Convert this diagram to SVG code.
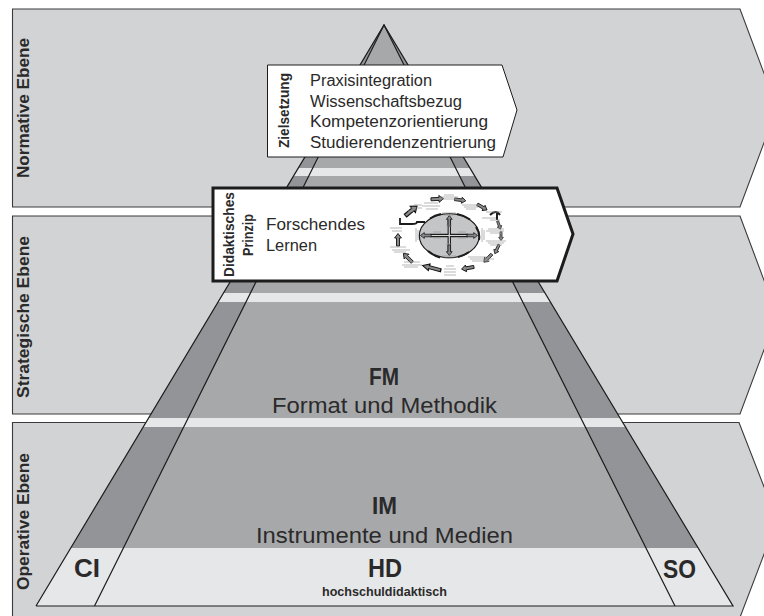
<svg xmlns="http://www.w3.org/2000/svg" xmlns:xlink="http://www.w3.org/1999/xlink" width="764" height="616" viewBox="0 0 764 616">
<style>
text{font-family:"Liberation Sans",Arial,sans-serif;fill:#2b2a2a}
.lvl{fill:#d1d3d4;stroke:#3a3a3c;stroke-width:1.1}
.ed{font-size:17px;font-weight:700}
.big{font-size:22px}
.hd{font-size:23px;font-weight:700}
.ls{font-size:16px}
.pl{fill:none;stroke:#1c1c1c;stroke-width:1.2}
.g{stroke:#9a9a9a;stroke-width:.7;fill:none}
</style>
<defs>
<clipPath id="tri"><polygon points="36,606 384,25 733,606"/></clipPath>
<polygon id="ar" points="-6,-1.5 2,-1.5 2,-3.400 6.500,0 2,3.400 2,1.500 -6,1.500" fill="#8a8a8a" stroke="#111" stroke-width=".9"/>
</defs>
<rect width="764" height="616" fill="#fff"/>
<g id="level-normative"><polygon class="lvl" points="12.500,9 740,9 777,108 740,207 12.500,207"/></g>
<g id="level-strategic"><polygon class="lvl" points="12.500,216 740,216 777,315 740,414 12.500,414"/></g>
<g id="level-operative"><polygon class="lvl" points="12.500,422.500 739,422.500 777,520 739,620 12.500,620"/></g>
<g id="pyramid">
<polygon points="36,606 384,25 733,606" fill="#929497"/>
<polygon points="94.500,606 384,25 675,606" fill="#a7a8aa"/>
<g clip-path="url(#tri)" fill="#e6e7e8">
<rect x="0" y="168" width="764" height="8"/>
<rect x="0" y="293" width="764" height="9"/>
<rect x="0" y="418" width="764" height="9"/>
<rect x="0" y="548" width="764" height="58"/>
</g>
<polyline class="pl" points="36,606 384,25 733,606 36,606"/>
<polyline class="pl" points="94.500,606 384,25 675,606"/>
</g>
<g id="label-levels">
<text class="ed" transform="translate(29,178) rotate(-90)" textLength="140" lengthAdjust="spacingAndGlyphs">Normative Ebene</text>
<text class="ed" transform="translate(29,398) rotate(-90)" textLength="162" lengthAdjust="spacingAndGlyphs">Strategische Ebene</text>
<text class="ed" transform="translate(29,590) rotate(-90)" textLength="137" lengthAdjust="spacingAndGlyphs">Operative Ebene</text>
</g>
<g id="node-zielsetzung">
<polygon points="267.500,65 502,65 517,110 503,157 267.500,157" fill="#fff" stroke="#1c1c1c" stroke-width="1"/>
<text transform="translate(289,148) rotate(-90)" font-size="14.500" font-weight="700" textLength="75" lengthAdjust="spacingAndGlyphs">Zielsetzung</text>
<text class="ls" x="310" y="86" textLength="122" lengthAdjust="spacingAndGlyphs">Praxisintegration</text>
<text class="ls" x="310" y="107" textLength="152" lengthAdjust="spacingAndGlyphs">Wissenschaftsbezug</text>
<text class="ls" x="310" y="127" textLength="178" lengthAdjust="spacingAndGlyphs">Kompetenzorientierung</text>
<text class="ls" x="310" y="148" textLength="186" lengthAdjust="spacingAndGlyphs">Studierendenzentrierung</text>
</g>
<g id="node-prinzip">
<polygon points="213,188 557,188 573,234 557,281 213,281" fill="#fff" stroke="#1c1c1c" stroke-width="3"/>
<text transform="translate(234,277) rotate(-90)" font-size="15" font-weight="700" textLength="85" lengthAdjust="spacingAndGlyphs">Didaktisches</text>
<text transform="translate(253,256) rotate(-90)" font-size="15" font-weight="700" textLength="42" lengthAdjust="spacingAndGlyphs">Prinzip</text>
<text class="ls" x="266" y="230" textLength="99" lengthAdjust="spacingAndGlyphs">Forschendes</text>
<text class="ls" x="266" y="251" textLength="51" lengthAdjust="spacingAndGlyphs">Lernen</text>
</g>
<g id="node-zyklus">
<ellipse cx="449.300" cy="235.700" rx="30" ry="22" fill="#c4c5c7" stroke="#1c1c1c" stroke-width="1.200"/>
<path d="M430 218.500A30 22 0 0 1 441 214M457 214A30 22 0 0 1 470 219.500M476 227A30 22 0 0 1 479 240M469 252A30 22 0 0 1 458 257M440 257.500A30 22 0 0 1 428 251" fill="none" stroke="#1c1c1c" stroke-width="2"/>
<path d="M430.500 235.500H468M449.300 219V252" stroke="#1c1c1c" stroke-width="3.400" fill="none"/>
<path d="M430.500 235.500H468M449.300 219V252" stroke="#d8d8d8" stroke-width="1.200" fill="none"/>
<use xlink:href="#ar" href="#ar" transform="translate(426,235.500) rotate(180) scale(.85)"/>
<use xlink:href="#ar" href="#ar" transform="translate(472,235.500) scale(.85)"/>
<use xlink:href="#ar" href="#ar" transform="translate(449.300,221) rotate(-90) scale(.85)"/>
<use xlink:href="#ar" href="#ar" transform="translate(449.300,250) rotate(90) scale(.85)"/>
<use xlink:href="#ar" href="#ar" transform="translate(437,199) rotate(-3)"/>
<use xlink:href="#ar" href="#ar" transform="translate(460,200) rotate(8) scale(.9)"/>
<use xlink:href="#ar" href="#ar" transform="translate(482,207) rotate(30) scale(.9)"/>
<use xlink:href="#ar" href="#ar" transform="translate(499,225) rotate(70) scale(.7)"/>
<use xlink:href="#ar" href="#ar" transform="translate(501,236) rotate(90) scale(.7)"/>
<use xlink:href="#ar" href="#ar" transform="translate(497,249) rotate(115) scale(.8)"/>
<use xlink:href="#ar" href="#ar" transform="translate(488,258) rotate(135) scale(.9)"/>
<use xlink:href="#ar" href="#ar" transform="translate(468,268) rotate(170)"/>
<use xlink:href="#ar" href="#ar" transform="translate(432,268) rotate(-165) scale(1.500,1)"/>
<use xlink:href="#ar" href="#ar" transform="translate(408,258) rotate(-135)"/>
<use xlink:href="#ar" href="#ar" transform="translate(398,240) rotate(-90)"/>
<use xlink:href="#ar" href="#ar" transform="translate(411,211) rotate(-40) scale(1.200)"/>
<path d="M400 218V224H412Q417 224 417 222H425" fill="none" stroke="#1c1c1c" stroke-width="1.800"/>
<path d="M490 215Q496 209 500 215M497 212V220" fill="none" stroke="#1c1c1c" stroke-width="2"/>
<g class="g">
<path d="M444 195h10M440 197h18M442 199h14"/>
<path d="M462 205h16M464 207h14M466 209h10"/>
<path d="M486 212h16M482 218h14M490 220h10"/>
<path d="M488 229h16M486 231h18M490 233h12"/>
<path d="M486 241h20M488 243h16M490 245h12"/>
<path d="M468 257h22M470 259h24M472 261h18"/>
<path d="M446 266h8M444 269h12M444 272h12M444 275h12"/>
<path d="M404 262h16M402 265h20M404 267h14"/>
<path d="M390 228h12M392 231h10"/>
<path d="M390 247h16M392 250h18M394 252h12"/>
<path d="M414 205h8M410 208h12M408 211h6"/>
<path d="M422 206h18M424 203h14M426 209h12"/>
<path d="M442 213h14M444 215h10M442 256h14M444 258h10"/>
<path d="M416 228v14M418 230v10M482 228v14M484 230v10"/>
<path d="M433 232h8M433 238h8M458 232h8M458 238h8M446 226h6M446 244h6"/>
</g>
</g>
<g id="node-fm"><text class="hd" x="369" y="385" textLength="30" lengthAdjust="spacingAndGlyphs">FM</text>
<text class="big" x="272" y="412.500" textLength="225" lengthAdjust="spacingAndGlyphs">Format und Methodik</text></g>
<g id="node-im"><text class="hd" x="372" y="514" textLength="25" lengthAdjust="spacingAndGlyphs">IM</text>
<text class="big" x="256" y="543" textLength="257" lengthAdjust="spacingAndGlyphs">Instrumente und Medien</text></g>
<g id="node-hd"><text x="368" y="577" font-size="25" font-weight="700" textLength="34" lengthAdjust="spacingAndGlyphs">HD</text>
<text x="322" y="596" font-size="12.500" font-weight="700" textLength="125" lengthAdjust="spacingAndGlyphs">hochschuldidaktisch</text></g>
<g id="node-ci"><text x="74" y="577" font-size="25" font-weight="700" textLength="26" lengthAdjust="spacingAndGlyphs">CI</text></g>
<g id="node-so"><text x="663" y="578" font-size="25" font-weight="700" textLength="33" lengthAdjust="spacingAndGlyphs">SO</text></g>
</svg>
